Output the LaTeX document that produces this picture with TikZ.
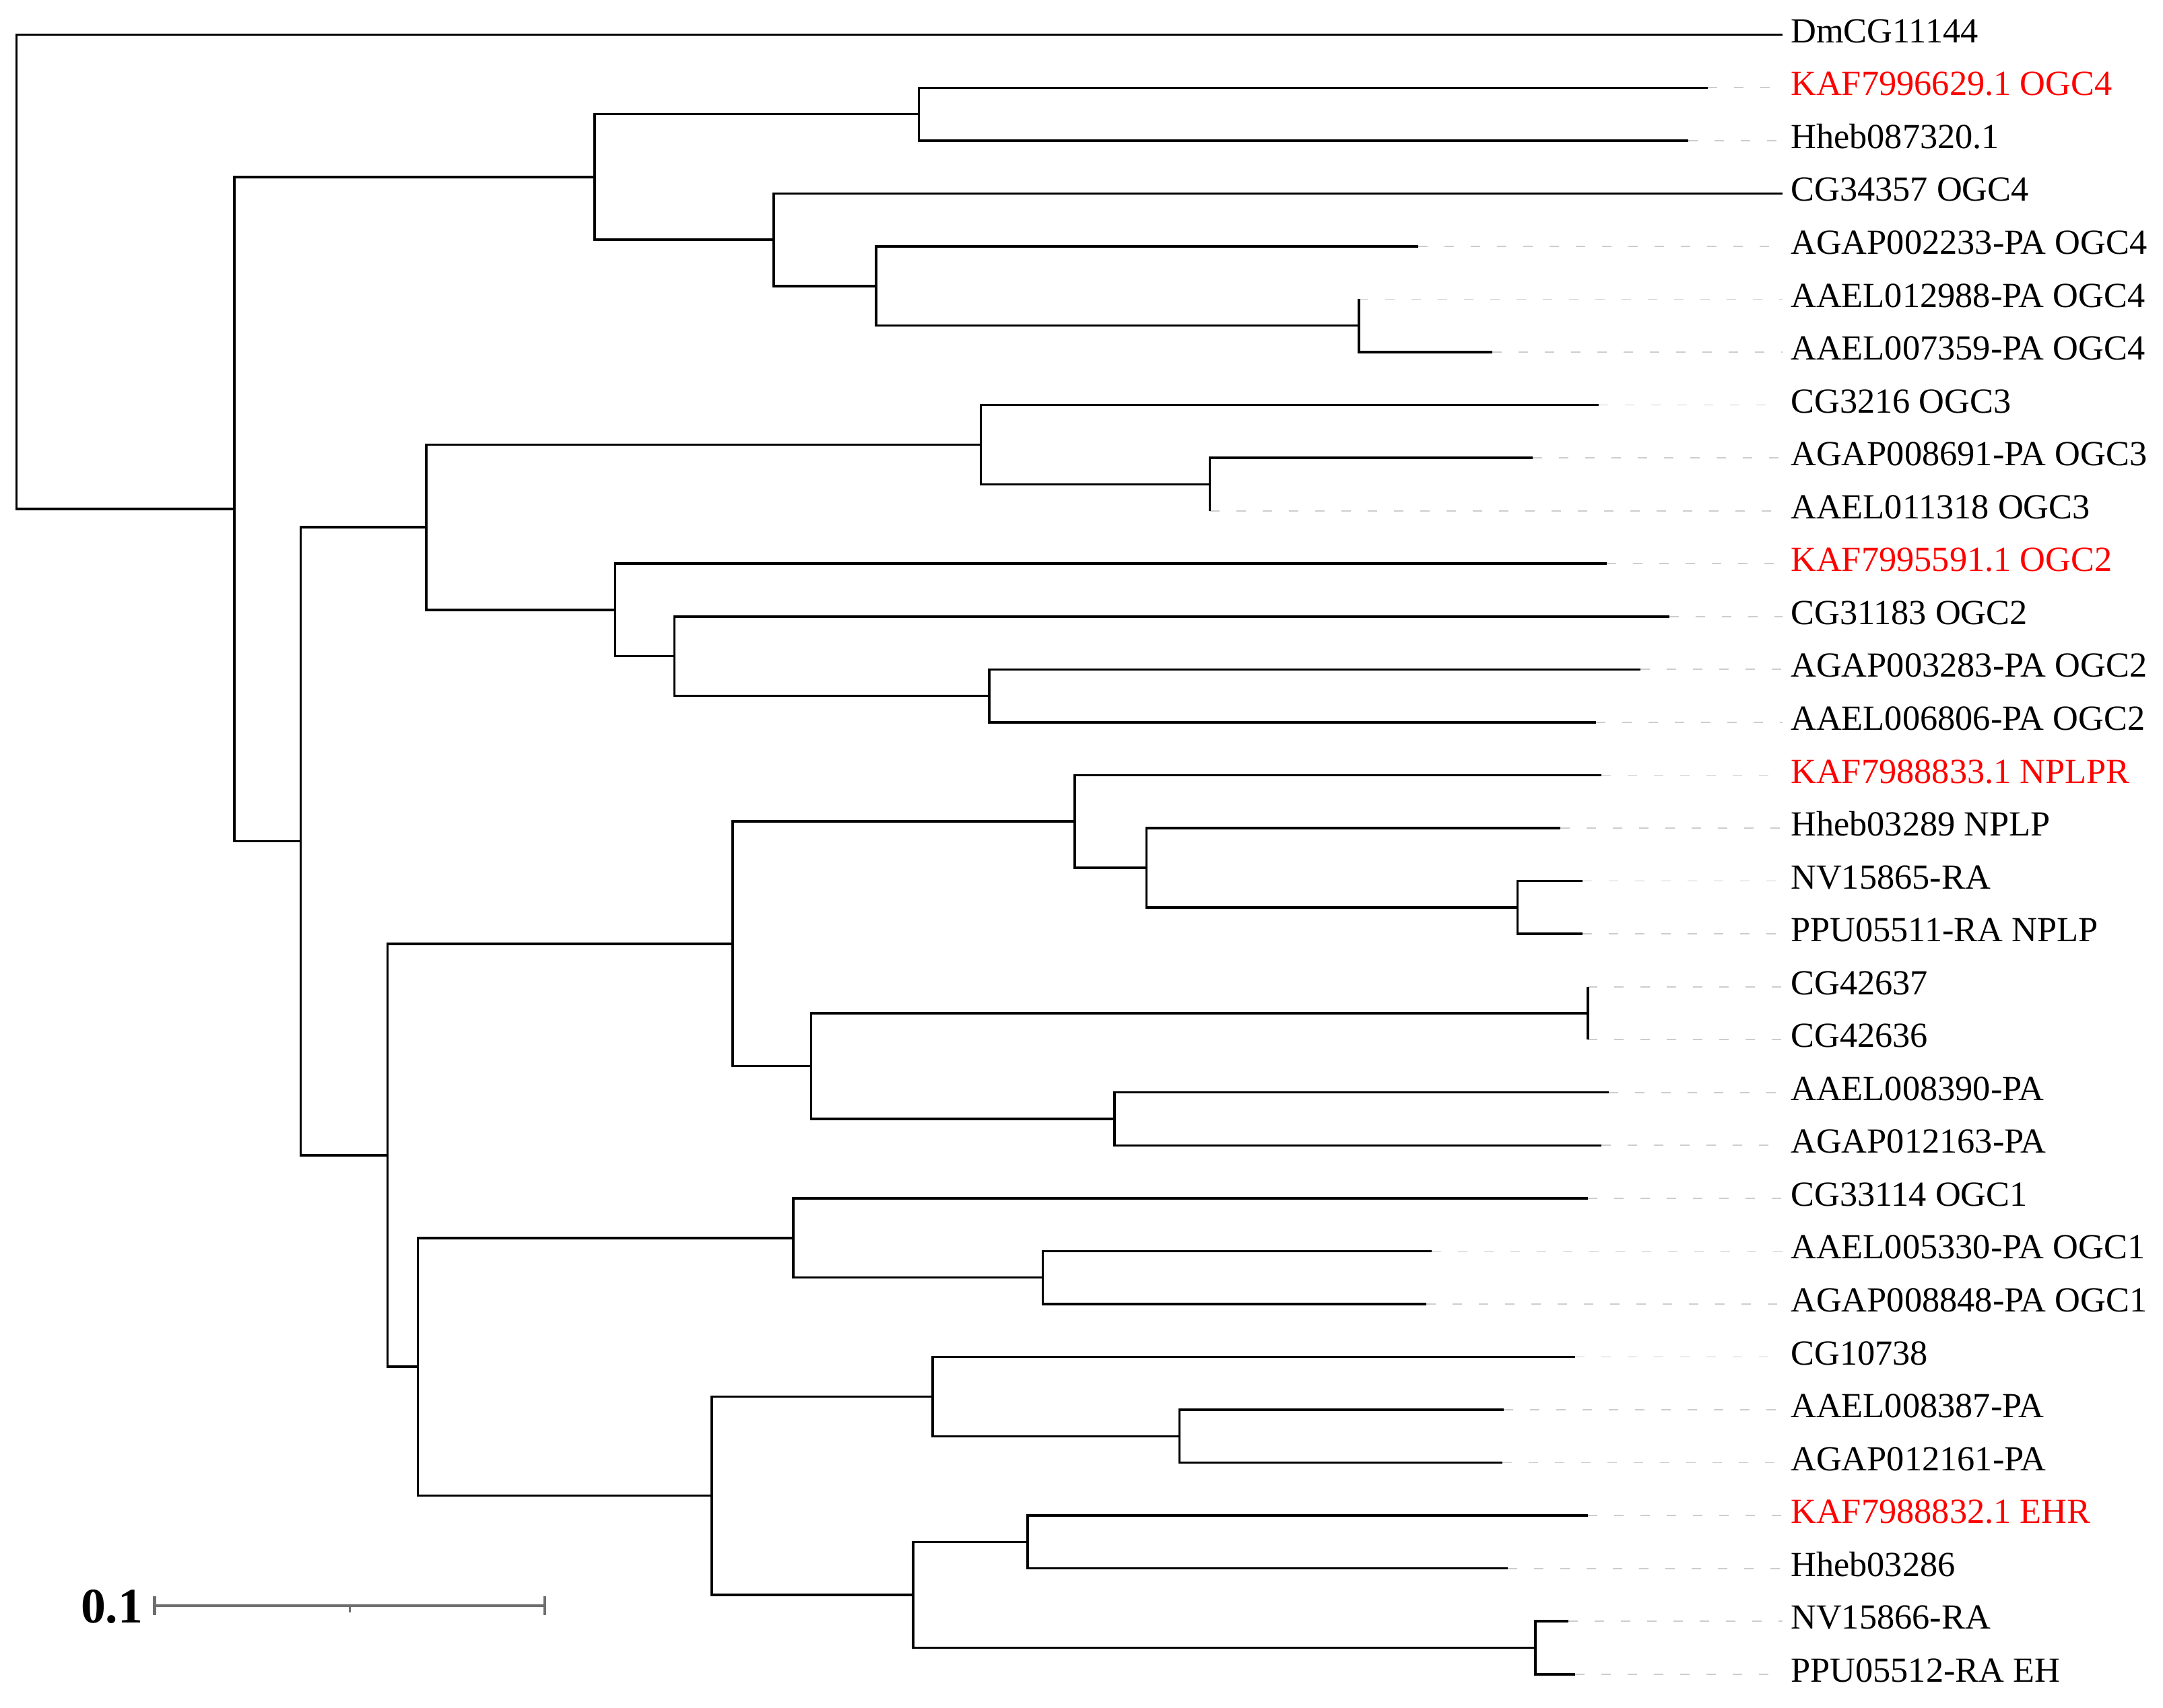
\documentclass[tikz,border=0pt]{standalone}
\usepackage{fontspec}
\setmainfont{Liberation Serif}
\definecolor{guidegray}{RGB}{205,205,205}
\definecolor{bargray}{RGB}{110,110,110}

\begin{document}
\begin{tikzpicture}[x=0.20485mm, y=-7.855mm,
    branch/.style={line width=1pt, black},
    guide/.style={line width=0.5pt, guidegray, dash pattern=on 1.4mm off 2.5mm},
    scalebar/.style={line width=1.2pt, bargray},
    leaf/.style={anchor=west, inner xsep=1.2mm, inner ysep=0pt, text height=0.66em, text depth=0pt, font=\fontsize{14.9}{17}\selectfont}]
  \useasboundingbox (0,-0.6582) rectangle (1568,31.628);
  \coordinate (A) at (12,4.484);
  \coordinate (B) at (170,8.969);
  \coordinate (C) at (431,2.6875);
  \coordinate (D) at (666,1.5);
  \coordinate (E) at (561,3.875);
  \coordinate (F) at (635,4.75);
  \coordinate (G) at (985,5.5);
  \coordinate (H) at (218,15.25);
  \coordinate (I) at (309,9.3125);
  \coordinate (J) at (711,7.75);
  \coordinate (K) at (877,8.5);
  \coordinate (L) at (446,10.875);
  \coordinate (M) at (489,11.75);
  \coordinate (N) at (717,12.5);
  \coordinate (O) at (281,21.1875);
  \coordinate (P) at (531,17.1875);
  \coordinate (Q) at (779,14.875);
  \coordinate (R) at (831,15.75);
  \coordinate (S) at (1100,16.5);
  \coordinate (T) at (588,19.5);
  \coordinate (U) at (1151,18.5);
  \coordinate (V) at (808,20.5);
  \coordinate (W) at (303,25.1875);
  \coordinate (X) at (575,22.75);
  \coordinate (Y) at (756,23.5);
  \coordinate (Z) at (516,27.625);
  \coordinate (AA) at (676,25.75);
  \coordinate (AB) at (855,26.5);
  \coordinate (AC) at (662,29.5);
  \coordinate (AD) at (745,28.5);
  \coordinate (AE) at (1113,30.5);
  \foreach \tip/\x/\row/\txt/\clr in {
      CG11144/1292/0/DmCG11144/black, KAF7996629/1238/1/KAF7996629.1 OGC4/red,
      Hheb087320/1224/2/Hheb087320.1/black, CG34357/1292/3/CG34357 OGC4/black,
      AGAP002233/1028/4/AGAP002233-PA OGC4/black, AAEL012988/985/5/AAEL012988-PA OGC4/black,
      AAEL007359/1082/6/AAEL007359-PA OGC4/black, CG3216/1159/7/CG3216 OGC3/black,
      AGAP008691/1111/8/AGAP008691-PA OGC3/black, AAEL011318/877/9/AAEL011318 OGC3/black,
      KAF7995591/1165/10/KAF7995591.1 OGC2/red, CG31183/1210/11/CG31183 OGC2/black,
      AGAP003283/1189/12/AGAP003283-PA OGC2/black, AAEL006806/1157/13/AAEL006806-PA OGC2/black,
      KAF7988833/1161/14/KAF7988833.1 NPLPR/red, Hheb03289/1131/15/Hheb03289 NPLP/black,
      NV15865/1147/16/NV15865-RA/black, PPU05511/1147/17/PPU05511-RA NPLP/black,
      CG42637/1151/18/CG42637/black, CG42636/1151/19/CG42636/black,
      AAEL008390/1166/20/AAEL008390-PA/black, AGAP012163/1161/21/AGAP012163-PA/black,
      CG33114/1151/22/CG33114 OGC1/black, AAEL005330/1038/23/AAEL005330-PA OGC1/black,
      AGAP008848/1034/24/AGAP008848-PA OGC1/black, CG10738/1142/25/CG10738/black,
      AAEL008387/1090/26/AAEL008387-PA/black, AGAP012161/1089/27/AGAP012161-PA/black,
      KAF7988832/1151/28/KAF7988832.1 EHR/red, Hheb03286/1093/29/Hheb03286/black,
      NV15866/1137/30/NV15866-RA/black, PPU05512/1142/31/PPU05512-RA EH/black}{
    \coordinate (\tip) at (\x,\row);
    \node[leaf, text=\clr] (\tip label) at (1292,\row) {\txt};
    \draw[guide] (\tip) -- (\tip label.west);
  }
  \foreach \p/\c in {A/CG11144, A/B, B/C, B/H, C/D, C/E, D/KAF7996629, D/Hheb087320,
      E/CG34357, E/F, F/AGAP002233, F/G, G/AAEL012988, G/AAEL007359, H/I, H/O,
      I/J, I/L, J/CG3216, J/K, K/AGAP008691, K/AAEL011318, L/KAF7995591, L/M,
      M/CG31183, M/N, N/AGAP003283, N/AAEL006806, O/P, O/W, P/Q, P/T,
      Q/KAF7988833, Q/R, R/Hheb03289, R/S, S/NV15865, S/PPU05511, T/U, T/V,
      U/CG42637, U/CG42636, V/AAEL008390, V/AGAP012163, W/X, W/Z, X/CG33114, X/Y,
      Y/AAEL005330, Y/AGAP008848, Z/AA, Z/AC, AA/CG10738, AA/AB, AB/AAEL008387,
      AB/AGAP012161, AC/AD, AC/AE, AD/KAF7988832, AD/Hheb03286, AE/NV15866, AE/PPU05512}
    \draw[branch] (\p) |- (\c);
  \coordinate (bar left) at (112,29.70);
  \coordinate (bar right) at (395,29.70);
  \coordinate (bar mid) at (253.5,29.70);
  \draw[scalebar] (bar left) -- (bar right);
  \draw[scalebar] ([yshift=-1.4mm]bar left) -- ([yshift=1.4mm]bar left);
  \draw[scalebar] ([yshift=-1.4mm]bar right) -- ([yshift=1.4mm]bar right);
  \draw[scalebar, line width=0.8pt] (bar mid) -- ([yshift=-1mm]bar mid);
  \node[anchor=east, inner sep=0pt, font=\fontsize{21}{25}\selectfont\bfseries] (bar label) at (104,29.72) {0.1};
\end{tikzpicture}
\end{document}
